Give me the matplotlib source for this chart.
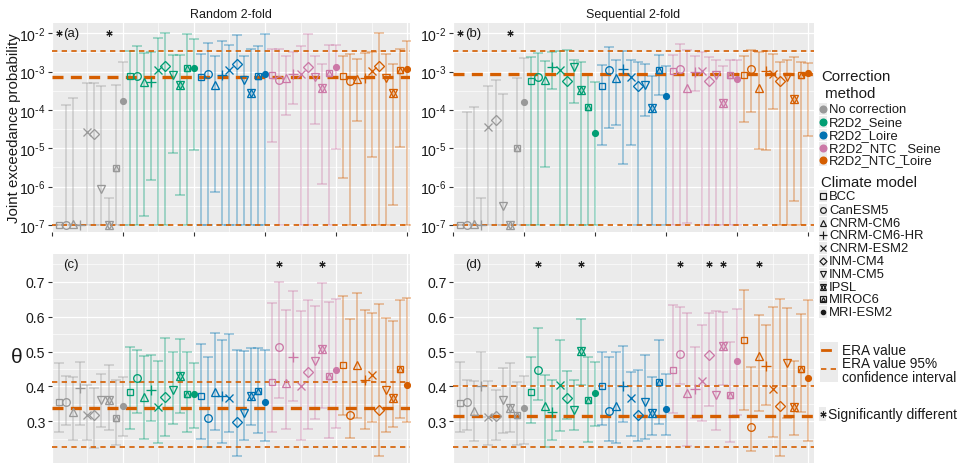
import numpy as np
import matplotlib
matplotlib.use('Agg')
import matplotlib.pyplot as plt
from matplotlib.patches import Rectangle

plt.rcParams['font.family'] = ['Liberation Sans', 'DejaVu Sans']
plt.rcParams['mathtext.default'] = 'regular'

# ---------------- data ----------------
methods = ['No correction', 'R2D2_Seine', 'R2D2_Loire', 'R2D2_NTC _Seine', 'R2D2_NTC_Loire']
method_colors = ['#999999', '#009E73', '#0072B2', '#CC79A7', '#D55E00']
models = ['BCC', 'CanESM5', 'CNRM-CM6', 'CNRM-CM6-HR', 'CNRM-ESM2',
          'INM-CM4', 'INM-CM5', 'IPSL', 'MIROC6', 'MRI-ESM2']

# Panel (a): joint exceedance probability, random 2-fold
a_val = [1e-7, 1e-7, 1.05e-7, 1e-7, 2.7e-5, 2.4e-5, 8.7e-7, 1e-7, 3.0e-6, 1.7e-4,
         7.6e-4, 7.8e-4, 5.5e-4, 5.3e-4, 1.1e-3, 1.4e-3, 8e-4, 4.5e-4, 1.25e-3, 1.25e-3,
         7.1e-4, 8.7e-4, 4.5e-4, 8e-4, 1.1e-3, 1.55e-3, 6.0e-4, 2.8e-4, 7.8e-4, 8.7e-4,
         8.3e-4, 6.1e-4, 6.8e-4, 8.9e-4, 8.9e-4, 1.32e-3, 7.3e-4, 3.7e-4, 9.2e-4, 1.35e-3,
         7.8e-4, 5.8e-4, 6.4e-4, 7e-4, 1.03e-3, 1.4e-3, 6.8e-4, 2.75e-4, 1.08e-3, 1.15e-3]
a_lo = [1e-7] * 10 + \
       [1e-7, 1e-7, 1.7e-7, 1.5e-6, 1e-7, 1e-7, 7.6e-6, 5.9e-7, 1e-7, 9.3e-6] + \
       [1e-7, 1e-7, 7.4e-7, 1e-7, 1e-7, 1e-7, 1e-7, 1e-7, 1e-7, 1e-7] + \
       [1.45e-5, 1e-7, 7.4e-5, 1.44e-4, 1e-7, 1e-7, 4.3e-5, 1.2e-6, 1e-7, 9.8e-6] + \
       [1.65e-6, 1e-7, 5.2e-5, 1e-7, 5.9e-6, 1e-7, 1e-7, 3.4e-7, 1.07e-5, 1e-7]
a_hi = [1e-7, 1.35e-4, 2.0e-4, 1e-7, 5.2e-4, 5.0e-4, 4.1e-4, 5.0e-7, 4.6e-4, 1.75e-3,
        3.5e-3, 4.8e-3, 3.0e-3, 3.2e-3, 7.5e-3, 1e-2, 2.7e-3, 2.7e-3, 9.6e-3, 7.1e-3,
        2.9e-3, 5.6e-3, 2.6e-3, 6.4e-3, 5e-3, 9e-3, 2.5e-3, 3.9e-3, 4.6e-3, 9.6e-3,
        3.98e-3, 4e-3, 2.55e-3, 3.2e-3, 4.8e-3, 9.6e-3, 2.6e-3, 1.6e-3, 4.9e-3, 5e-3,
        2.5e-3, 2.9e-3, 2.2e-3, 3.0e-3, 3.2e-3, 1.02e-2, 2.9e-3, 1.6e-3, 4e-3, 6.2e-3]
a_era = 7.1e-4
a_ci = [1e-7, 3.5e-3]
a_sig = [1, 8]

# Panel (b): joint exceedance probability, sequential 2-fold
b_val = [1e-7, 1e-7, 1.05e-7, 1e-7, 3.6e-5, 5.6e-5, 3.2e-7, 1e-7, 1.0e-5, 1.65e-4,
         5.6e-4, 7.4e-4, 6.2e-4, 1.3e-3, 1.1e-3, 5.8e-4, 1.3e-3, 3.3e-4, 1.17e-4, 2.5e-5,
         4.1e-4, 1.1e-3, 6.8e-4, 1.15e-3, 7.4e-4, 4.1e-4, 4.5e-4, 1.1e-4, 1.1e-3, 2.3e-4,
         1.02e-3, 1.2e-3, 3.7e-4, 9.7e-4, 1.07e-3, 5.8e-4, 8.3e-4, 1.5e-4, 8.3e-4, 6.5e-4,
         8.3e-4, 1.2e-3, 3.7e-4, 1.02e-3, 8.9e-4, 5.6e-4, 7.3e-4, 1.9e-4, 8.3e-4, 9.2e-4]
b_lo = [1e-7] * 10 + \
       [1e-7, 1e-7, 3.3e-6, 3.5e-4, 1e-7, 1e-7, 1.5e-4, 1e-7, 1e-7, 1e-7] + \
       [1.2e-5, 3.3e-5, 4.1e-5, 3.9e-6, 1.2e-5, 1e-7, 7.1e-5, 1e-7, 2.5e-4, 1e-7] + \
       [1e-7, 1e-7, 1.1e-7, 3.1e-4, 1e-7, 1e-7, 1e-7, 1e-7, 1e-7, 1e-7] + \
       [4.8e-5, 8.9e-5, 9.8e-6, 8.9e-6, 1.07e-4, 1e-7, 1e-7, 4.2e-7, 1e-7, 2.1e-5]
b_hi = [1e-7, 8.7e-5, 1.2e-4, 5e-7, 4.1e-4, 6.1e-4, 2.6e-4, 1e-7, 6.8e-4, 2.3e-3,
        2.4e-3, 3.0e-3, 1.9e-3, 3.2e-3, 3.5e-3, 3.7e-3, 2.0e-3, 1.75e-3, 8.7e-4, 5.3e-4,
        1.5e-3, 4.5e-3, 2.0e-3, 3.5e-3, 2.0e-3, 1.75e-3, 1.6e-3, 7.6e-4, 2.8e-3, 1.37e-3,
        2.77e-3, 5.4e-3, 3.7e-3, 2.5e-3, 3.3e-3, 2.4e-3, 2.0e-3, 1.4e-3, 2.0e-3, 2.0e-3,
        2.6e-3, 3.7e-3, 3.3e-3, 3.4e-3, 2.9e-3, 1.78e-3, 2.0e-3, 2.4e-3, 1.78e-3, 1.7e-3]
b_era = 8.5e-4
b_ci = [1e-7, 3.5e-3]
b_sig = [1, 8]

# Panel (c): theta, random 2-fold
c_val = [0.356, 0.356, 0.326, 0.397, 0.319, 0.318, 0.362, 0.361, 0.310, 0.345,
         0.383, 0.423, 0.369, 0.390, 0.342, 0.371, 0.391, 0.431, 0.378, 0.378,
         0.373, 0.309, 0.383, 0.373, 0.367, 0.299, 0.323, 0.373, 0.388, 0.356,
         0.412, 0.514, 0.410, 0.485, 0.402, 0.440, 0.474, 0.507, 0.431, 0.448,
         0.461, 0.318, 0.461, 0.419, 0.433, 0.333, 0.391, 0.367, 0.450, 0.405]
c_lo = [0.271, 0.289, 0.247, 0.290, 0.247, 0.223, 0.285, 0.275, 0.233, 0.259,
        0.278, 0.323, 0.249, 0.300, 0.237, 0.259, 0.294, 0.324, 0.270, 0.281,
        0.249, 0.228, 0.276, 0.238, 0.270, 0.202, 0.247, 0.289, 0.267, 0.243,
        0.270, 0.367, 0.278, 0.357, 0.247, 0.278, 0.307, 0.338, 0.252, 0.280,
        0.318, 0.252, 0.309, 0.278, 0.299, 0.202, 0.271, 0.285, 0.309, 0.297]
c_hi = [0.467, 0.429, 0.428, 0.471, 0.405, 0.395, 0.437, 0.462, 0.418, 0.426,
        0.512, 0.505, 0.486, 0.490, 0.474, 0.538, 0.498, 0.536, 0.500, 0.466,
        0.521, 0.483, 0.553, 0.534, 0.550, 0.504, 0.502, 0.510, 0.510, 0.505,
        0.639, 0.700, 0.620, 0.672, 0.617, 0.648, 0.629, 0.695, 0.641, 0.650,
        0.658, 0.593, 0.667, 0.619, 0.609, 0.636, 0.596, 0.586, 0.646, 0.652]
c_era = 0.338
c_ci = [0.227, 0.412]
c_sig = [32, 38]

# Panel (d): theta, sequential 2-fold
d_val = [0.352, 0.356, 0.329, 0.402, 0.313, 0.316, 0.361, 0.337, 0.318, 0.337,
         0.383, 0.448, 0.345, 0.326, 0.405, 0.367, 0.332, 0.502, 0.362, 0.381,
         0.400, 0.331, 0.345, 0.402, 0.366, 0.319, 0.356, 0.323, 0.414, 0.335,
         0.447, 0.493, 0.380, 0.393, 0.416, 0.491, 0.376, 0.517, 0.376, 0.472,
         0.533, 0.285, 0.486, 0.459, 0.393, 0.345, 0.466, 0.342, 0.450, 0.423]
d_lo = [0.271, 0.276, 0.243, 0.313, 0.232, 0.247, 0.268, 0.270, 0.233, 0.235,
        0.295, 0.362, 0.226, 0.247, 0.273, 0.307, 0.275, 0.405, 0.240, 0.288,
        0.290, 0.243, 0.237, 0.299, 0.259, 0.245, 0.251, 0.261, 0.292, 0.261,
        0.323, 0.407, 0.230, 0.311, 0.302, 0.343, 0.276, 0.405, 0.240, 0.318,
        0.333, 0.214, 0.331, 0.348, 0.256, 0.202, 0.311, 0.262, 0.326, 0.243]
d_hi = [0.469, 0.418, 0.416, 0.498, 0.416, 0.391, 0.453, 0.466, 0.412, 0.429,
        0.485, 0.566, 0.433, 0.418, 0.534, 0.443, 0.418, 0.593, 0.483, 0.471,
        0.498, 0.485, 0.500, 0.515, 0.442, 0.448, 0.490, 0.428, 0.533, 0.436,
        0.633, 0.628, 0.610, 0.514, 0.576, 0.610, 0.617, 0.612, 0.528, 0.622,
        0.676, 0.457, 0.605, 0.577, 0.626, 0.650, 0.625, 0.474, 0.607, 0.648]
d_era = 0.316
d_ci = [0.226, 0.402]
d_sig = [12, 18, 32, 36, 38, 43]

panel_titles = ['Random 2-fold', 'Sequential 2-fold']
panel_tags = ['(a)', '(b)', '(c)', '(d)']

# ---------------- style helpers ----------------
W, H = 962, 464
ERA_C = '#D55E00'
BG = '#EBEBEB'
TXT = '#1a1a1a'


def marker_specs(m):
    """list of (marker, ms, filled) for model index m"""
    return {
        0: [('s', 5.0, False)],
        1: [('o', 5.5, False)],
        2: [('^', 6.2, False)],
        3: [('+', 7.2, False)],
        4: [('x', 5.2, False)],
        5: [('D', 4.8, False)],
        6: [('v', 6.2, False)],
        7: [('^', 6.2, False), ('v', 6.2, False)],
        8: [('s', 5.0, False), ('^', 3.8, False)],
        9: [('o', 4.2, True)],
    }[m]


def draw_marker(ax, x, y, m, color, scale=1.0, z=5, mew=0.95):
    for mk, ms, filled in marker_specs(m):
        ax.plot([x], [y], linestyle='none', marker=mk, markersize=ms * scale,
                markeredgecolor=color, markerfacecolor=color if filled else 'none',
                markeredgewidth=mew, zorder=z)


def px_axes(fig, left, top, right, bottom):
    return fig.add_axes([left / W, 1 - bottom / H, (right - left) / W, (bottom - top) / H])


fig = plt.figure(figsize=(W / 100, H / 100), dpi=100)

panels = [
    dict(val=a_val, lo=a_lo, hi=a_hi, era=a_era, ci=a_ci, sig=a_sig, log=True,
         box=(51.7, 24, 410, 233), xmax=50.4),
    dict(val=b_val, lo=b_lo, hi=b_hi, era=b_era, ci=b_ci, sig=b_sig, log=True,
         box=(452.9, 24, 814, 233), xmax=50.8),
    dict(val=c_val, lo=c_lo, hi=c_hi, era=c_era, ci=c_ci, sig=c_sig, log=False,
         box=(51.7, 255, 410, 464), xmax=50.4),
    dict(val=d_val, lo=d_lo, hi=d_hi, era=d_era, ci=d_ci, sig=d_sig, log=False,
         box=(452.9, 255, 814, 464), xmax=50.8),
]

x = np.arange(1, 51)
for k, p in enumerate(panels):
    ax = px_axes(fig, *p['box'])
    ax.set_facecolor(BG)
    for s in ax.spines.values():
        s.set_visible(False)
    val = np.array(p['val'])
    lo = np.array(p['lo'])
    hi = np.array(p['hi'])

    # error bars
    for g in range(5):
        sl = slice(g * 10, g * 10 + 10)
        yerr = [np.maximum(val[sl] - lo[sl], 0), np.maximum(hi[sl] - val[sl], 0)]
        ax.errorbar(x[sl], val[sl], yerr=yerr, fmt='none', ecolor=method_colors[g],
                    alpha=0.42, elinewidth=1.1, capsize=3.8, capthick=1.1, zorder=2)
    # reference lines
    ax.axhline(p['era'], color=ERA_C, lw=2.4, dashes=(3.3, 2.2), zorder=3)
    for c in p['ci']:
        ax.axhline(c, color=ERA_C, lw=1.2, dashes=(3.2, 2.6), zorder=3)
    # points
    for i in range(50):
        draw_marker(ax, x[i], val[i], i % 10, method_colors[i // 10])

    if p['log']:
        ax.set_yscale('log')
        ax.set_yticks([10.0 ** e for e in range(-7, -1)])
        ax.set_yticklabels([r'$10^{\text{-}%d}$' % (-e) for e in range(-7, -1)])
        ax.set_yticks([10.0 ** (e + 0.5) for e in range(-8, -1)], minor=True)
        ax.yaxis.set_minor_formatter(matplotlib.ticker.NullFormatter())
        ax.set_ylim(10 ** -7.183, 10 ** -1.731)
        star_y = 1e-2
    else:
        ax.set_yticks([0.3, 0.4, 0.5, 0.6, 0.7])
        ax.set_yticklabels(['0.3', '0.4', '0.5', '0.6', '0.7'])
        ax.set_yticks([0.25, 0.35, 0.45, 0.55, 0.65, 0.75], minor=True)
        ax.set_ylim(0.181, 0.779)
        star_y = 0.751
    ax.set_xticks([0, 10, 20, 30, 40, 50])
    ax.set_xticklabels([])
    ax.set_xticks([5, 15, 25, 35, 45], minor=True)
    ax.set_xlim(0, p['xmax'])
    ax.grid(which='major', color='white', lw=0.9, zorder=0)
    ax.grid(which='minor', color='white', lw=0.45, zorder=0)
    ax.set_axisbelow(True)
    ax.tick_params(which='major', length=3, width=0.8, color='#333333',
                   labelsize=10.2, labelcolor=TXT, pad=1.5)
    ax.tick_params(which='minor', length=0)

    # significance
    for s in p['sig']:
        ax.plot([s], [star_y], linestyle='none', marker=(6, 2, 0), markersize=4.5,
                markeredgewidth=0.8, color='#222222', zorder=6)
    ax.text(1.65, star_y, panel_tags[k], fontsize=9.5, ha='left', va='center', color=TXT)
    if k < 2:
        ax.set_title(panel_titles[k], fontsize=9, pad=4, color=TXT)

fig.text(14 / W, 1 - 128 / H, 'Joint exceedance probability', rotation=90,
         fontsize=10.8, ha='center', va='center', color=TXT)
fig.text(17 / W, 1 - 358 / H, 'θ', fontsize=15, ha='center', va='center', color=TXT)

# ---------------- legend (pixel coordinate overlay) ----------------
lax = fig.add_axes([0, 0, 1, 1], zorder=10)
lax.set_xlim(0, W)
lax.set_ylim(H, 0)
lax.axis('off')

LFS = 9.4
lax.text(821, 77, 'Correction', fontsize=10.8, va='center', ha='left', color=TXT)
lax.text(821, 94, ' method', fontsize=10.8, va='center', ha='left', color=TXT)
meth_y = [110, 123, 136, 149, 161]
for g, name in enumerate(methods):
    lax.add_patch(Rectangle((819.5, meth_y[g] - 6), 8, 12, color=BG, lw=0))
    lax.plot([823.5], [meth_y[g]], 'o', ms=4.8, color=method_colors[g])
    lax.text(829, meth_y[g], name, fontsize=LFS, va='center', ha='left', color=TXT)

lax.text(821, 183, 'Climate model', fontsize=10.8, va='center', ha='left', color=TXT)
mod_y = [197, 211, 224, 236, 249, 262, 275, 288, 300, 313]
for m, name in enumerate(models):
    lax.add_patch(Rectangle((819.5, mod_y[m] - 6), 8, 12, color=BG, lw=0))
    draw_marker(lax, 823.5, mod_y[m], m, TXT, scale=0.75, z=12, mew=0.85)
    lax.text(829, mod_y[m], name, fontsize=LFS, va='center', ha='left', color=TXT)

lax.add_patch(Rectangle((820, 343), 18, 40, color=BG, lw=0))
lax.plot([822, 830], [351, 351], color=ERA_C, lw=2.0)
lax.plot([821, 838], [370, 370], color=ERA_C, lw=1.2, dashes=(3.2, 2.6))
lax.text(842, 351, 'ERA value', fontsize=LFS + 0.4, va='center', ha='left', color=TXT)
lax.text(842, 364, 'ERA value 95%', fontsize=LFS + 0.4, va='center', ha='left', color=TXT)
lax.text(842, 378, 'confidence interval', fontsize=LFS + 0.4, va='center', ha='left', color=TXT)

lax.add_patch(Rectangle((819.5, 408), 7, 14, color=BG, lw=0))
lax.plot([823], [415], linestyle='none', marker=(6, 2, 0), markersize=4.5,
         markeredgewidth=0.8, color='#222222')
lax.text(828, 415, 'Significantly different', fontsize=10, va='center', ha='left',
         color=TXT)

fig.savefig('out.png', dpi=100)
